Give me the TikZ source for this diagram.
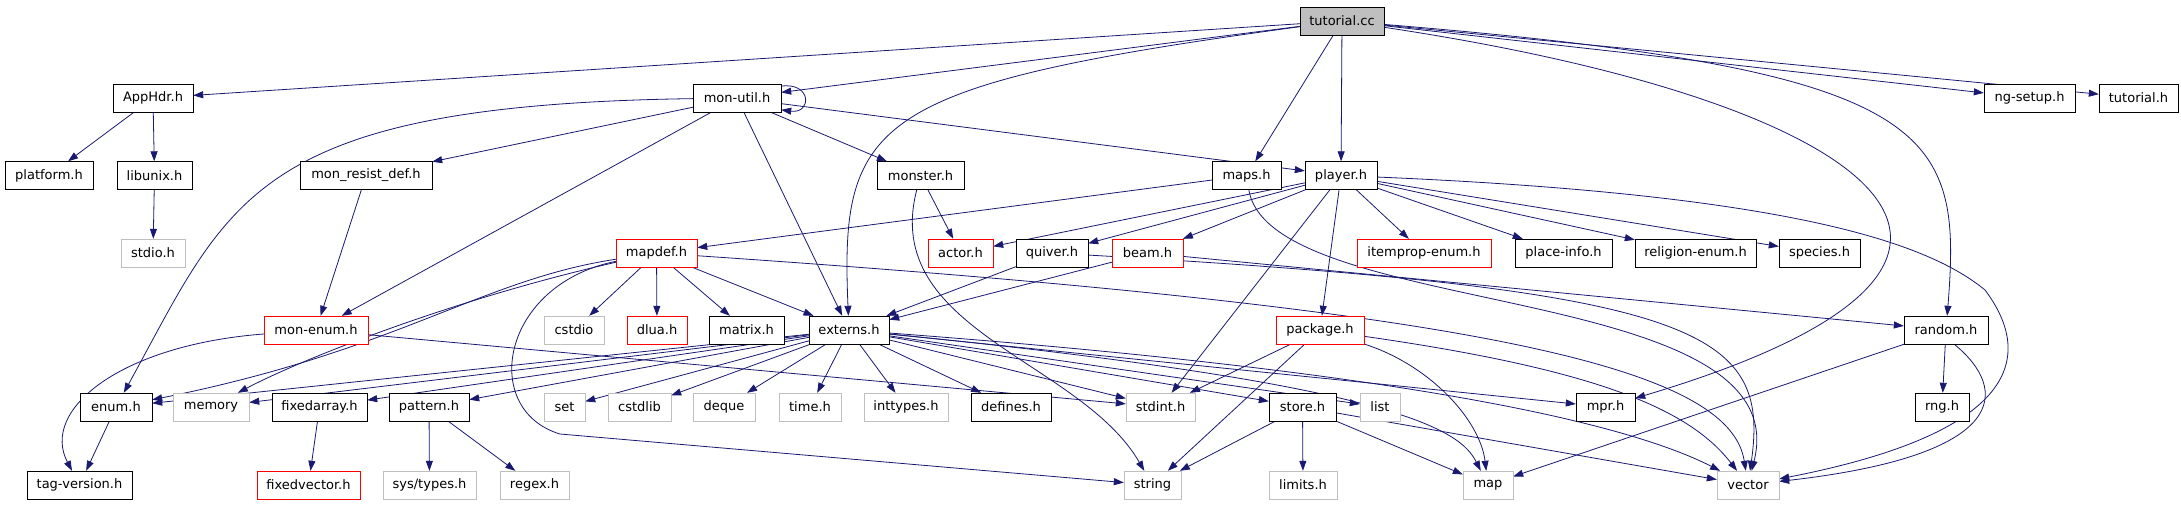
\documentclass[tikz,border=0pt]{standalone}
\usepackage{fontspec}
\setmainfont{DejaVu Sans}
\usetikzlibrary{arrows.meta,backgrounds}
\definecolor{edgeblue}{RGB}{25,25,112}
\definecolor{sysgray}{RGB}{191,191,191}

\begin{document}
\begin{tikzpicture}[
    x=1pt, y=-1pt,
    every node/.style={
        draw,
        fill=white,
        inner sep=0pt,
        minimum height=28pt,
        text centered,
        font=\fontsize{13}{15}\selectfont
    },
    header/.style={draw=black},
    syshdr/.style={draw=sysgray},
    trunc/.style={draw=red},
    root/.style={draw=black, fill=sysgray},
    arrow/.style={-{Triangle[length=10pt,width=7pt]}, line width=0.8pt, color=edgeblue}
]
\useasboundingbox (0,0) rectangle (2181,504);

% Top: the file itself
\node[root, minimum width=84pt] (tutorialcc) at (1342,21) {tutorial.cc};

% Row 1
\node[header, minimum width=80pt] (apphdr) at (153,98) {AppHdr.h};
\node[header, minimum width=88pt] (monutil) at (737,98) {mon-util.h};
\node[header, minimum width=91pt] (ngsetup) at (2029.5,98) {ng-setup.h};
\node[header, minimum width=79pt] (tutorialh) at (2138.5,98) {tutorial.h};

% Row 2
\node[header, minimum width=88pt] (platform) at (49,175.5) {platform.h};
\node[header, minimum width=75pt] (libunix) at (154.5,175.5) {libunix.h};
\node[header, minimum width=132pt] (monresist) at (366,175.5) {mon\_resist\_def.h};
\node[header, minimum width=87pt] (monster) at (920.5,175.5) {monster.h};
\node[header, minimum width=69pt] (maps) at (1246.5,175.5) {maps.h};
\node[header, minimum width=72pt] (player) at (1341,175.5) {player.h};

% Row 3
\node[syshdr, minimum width=64pt] (stdio) at (153,253) {stdio.h};
\node[trunc, minimum width=81pt] (mapdef) at (656.5,253) {mapdef.h};
\node[trunc, minimum width=65pt] (actor) at (960.5,253) {actor.h};
\node[header, minimum width=72pt] (quiver) at (1052,253) {quiver.h};
\node[trunc, minimum width=71pt] (beam) at (1147.5,253) {beam.h};
\node[trunc, minimum width=134pt] (itemprop) at (1424,253) {itemprop-enum.h};
\node[header, minimum width=97pt] (placeinfo) at (1563.5,253) {place-info.h};
\node[header, minimum width=121pt] (religion) at (1695.5,253) {religion-enum.h};
\node[header, minimum width=81pt] (species) at (1819.5,253) {species.h};

% Row 4
\node[trunc, minimum width=104pt] (monenum) at (316,330) {mon-enum.h};
\node[syshdr, minimum width=60pt] (cstdio) at (574,330) {cstdio};
\node[trunc, minimum width=60pt] (dlua) at (657,330) {dlua.h};
\node[header, minimum width=75pt] (matrix) at (746.5,330) {matrix.h};
\node[header, minimum width=80pt] (externs) at (849,330) {externs.h};
\node[trunc, minimum width=88pt] (package) at (1320,330) {package.h};
\node[header, minimum width=84pt] (random) at (1946,330) {random.h};

% Row 5
\node[header, minimum width=72pt] (enum) at (116,407) {enum.h};
\node[syshdr, minimum width=76pt] (memory) at (211,407) {memory};
\node[header, minimum width=95pt] (fixedarray) at (319.5,407) {fixedarray.h};
\node[header, minimum width=80pt] (pattern) at (429,407) {pattern.h};
\node[syshdr, minimum width=41pt] (set) at (564.5,407) {set};
\node[syshdr, minimum width=63pt] (cstdlib) at (639.5,407) {cstdlib};
\node[syshdr, minimum width=62pt] (deque) at (724,407) {deque};
\node[syshdr, minimum width=62pt] (timeh) at (810,407) {time.h};
\node[syshdr, minimum width=84pt] (inttypes) at (906,407) {inttypes.h};
\node[header, minimum width=80pt] (defines) at (1011,407) {defines.h};
\node[syshdr, minimum width=69pt] (stdint) at (1160.5,407) {stdint.h};
\node[header, minimum width=67pt] (store) at (1302.5,407) {store.h};
\node[syshdr, minimum width=40pt] (list) at (1380,407) {list};
\node[header, minimum width=59pt] (mpr) at (1605.5,407) {mpr.h};
\node[header, minimum width=54pt] (rng) at (1942,407) {rng.h};

% Row 6
\node[header, minimum width=105pt] (tagversion) at (79.5,485) {tag-version.h};
\node[trunc, minimum width=103pt] (fixedvector) at (308.5,485) {fixedvector.h};
\node[syshdr, minimum width=93pt] (systypes) at (429.5,485) {sys/types.h};
\node[syshdr, minimum width=69pt] (regex) at (534.5,485) {regex.h};
\node[syshdr, minimum width=57pt] (string) at (1152.5,485) {string};
\node[syshdr, minimum width=68pt] (limits) at (1303,485) {limits.h};
\node[syshdr, minimum width=50pt] (map) at (1488,485) {map};
\node[syshdr, minimum width=62pt] (vector) at (1748,485) {vector};

\begin{scope}[on background layer]
% Includes of tutorial.cc
\draw[arrow] (tutorialcc) -- (apphdr);
\draw[arrow] (tutorialcc) -- (monutil);
\draw[arrow] (tutorialcc) .. controls (870,85) and (840,120) .. (externs);
\draw[arrow] (tutorialcc) -- (maps);
\draw[arrow] (tutorialcc) -- (player);
\draw[arrow] (tutorialcc) .. controls (1870,100) and (2100,260) .. (mpr);
\draw[arrow] (tutorialcc) .. controls (1940,70) and (1962,130) .. (random);
\draw[arrow] (tutorialcc) -- (ngsetup);
\draw[arrow] (tutorialcc) -- (tutorialh);

% mon-util.h
\draw[arrow] (monutil.15) .. controls (812,82) and (812,114) .. (monutil.-15);
\draw[arrow] (monutil) .. controls (250,105) and (230,200) .. (enum);
\draw[arrow] (monutil) -- (monresist);
\draw[arrow] (monutil) -- (monenum);
\draw[arrow] (monutil) -- (externs);
\draw[arrow] (monutil) -- (monster);
\draw[arrow] (monutil) -- (player);

% AppHdr.h and friends
\draw[arrow] (apphdr) -- (platform);
\draw[arrow] (apphdr) -- (libunix);
\draw[arrow] (libunix) -- (stdio);
\draw[arrow] (monresist) -- (monenum);

% monster.h and maps.h
\draw[arrow] (monster) -- (actor);
\draw[arrow] (monster) .. controls (880,330) and (1080,360) .. (string);
\draw[arrow] (maps) -- (mapdef);
\draw[arrow] (maps) .. controls (1270,320) and (1800,280) .. (vector);

% player.h
\draw[arrow] (player) -- (actor);
\draw[arrow] (player) -- (quiver);
\draw[arrow] (player) -- (beam);
\draw[arrow] (player) -- (itemprop);
\draw[arrow] (player) -- (placeinfo);
\draw[arrow] (player) -- (religion);
\draw[arrow] (player) -- (species);
\draw[arrow] (player) -- (package);
\draw[arrow] (player) -- (stdint);
\draw[arrow] (player) .. controls (1800,195) and (1930,245) .. (1985,290)
    .. controls (2030,350) and (2030,430) .. (vector);

% quiver.h and beam.h
\draw[arrow] (quiver) -- (externs);
\draw[arrow] (quiver) .. controls (1700,290) and (1770,330) .. (vector);
\draw[arrow] (beam) -- (externs);
\draw[arrow] (beam) -- (random);

% mapdef.h
\draw[arrow] (mapdef) .. controls (480,280) and (400,350) .. (enum);
\draw[arrow] (mapdef) .. controls (450,300) and (300,360) .. (memory);
\draw[arrow] (mapdef) .. controls (500,285) and (480,410) .. (560,434) -- (string);
\draw[arrow] (mapdef) -- (cstdio);
\draw[arrow] (mapdef) -- (dlua);
\draw[arrow] (mapdef) -- (matrix);
\draw[arrow] (mapdef) -- (externs);
\draw[arrow] (mapdef) .. controls (1500,310) and (1730,370) .. (vector);

% mon-enum.h
\draw[arrow] (monenum) .. controls (120,345) and (40,410) .. (tagversion);
\draw[arrow] (monenum) -- (stdint);

% externs.h
\draw[arrow] (externs) -- (enum);
\draw[arrow] (externs) -- (memory);
\draw[arrow] (externs) -- (fixedarray);
\draw[arrow] (externs) -- (pattern);
\draw[arrow] (externs) -- (set);
\draw[arrow] (externs) -- (cstdlib);
\draw[arrow] (externs) -- (deque);
\draw[arrow] (externs) -- (timeh);
\draw[arrow] (externs) -- (inttypes);
\draw[arrow] (externs) -- (defines);
\draw[arrow] (externs) -- (stdint);
\draw[arrow] (externs) -- (store);
\draw[arrow] (externs) -- (list);
\draw[arrow] (externs) -- (mpr);
\draw[arrow] (externs) .. controls (1400,385) and (1460,430) .. (map);
\draw[arrow] (externs) .. controls (1450,375) and (1640,430) .. (vector);

% package.h, store.h, random.h
\draw[arrow] (package) -- (stdint);
\draw[arrow] (package) -- (string);
\draw[arrow] (package) .. controls (1430,365) and (1480,420) .. (map);
\draw[arrow] (package) .. controls (1600,370) and (1690,410) .. (vector);
\draw[arrow] (store) -- (string);
\draw[arrow] (store) -- (limits);
\draw[arrow] (store) -- (map);
\draw[arrow] (store) -- (vector);
\draw[arrow] (random) -- (rng);
\draw[arrow] (random) -- (map);
\draw[arrow] (random.-60) .. controls (2010,390) and (2010,455) .. (vector);

% Bottom rows
\draw[arrow] (fixedarray) -- (fixedvector);
\draw[arrow] (pattern) -- (systypes);
\draw[arrow] (pattern) -- (regex);
\draw[arrow] (enum) -- (tagversion);
\end{scope}

\end{tikzpicture}
\end{document}
